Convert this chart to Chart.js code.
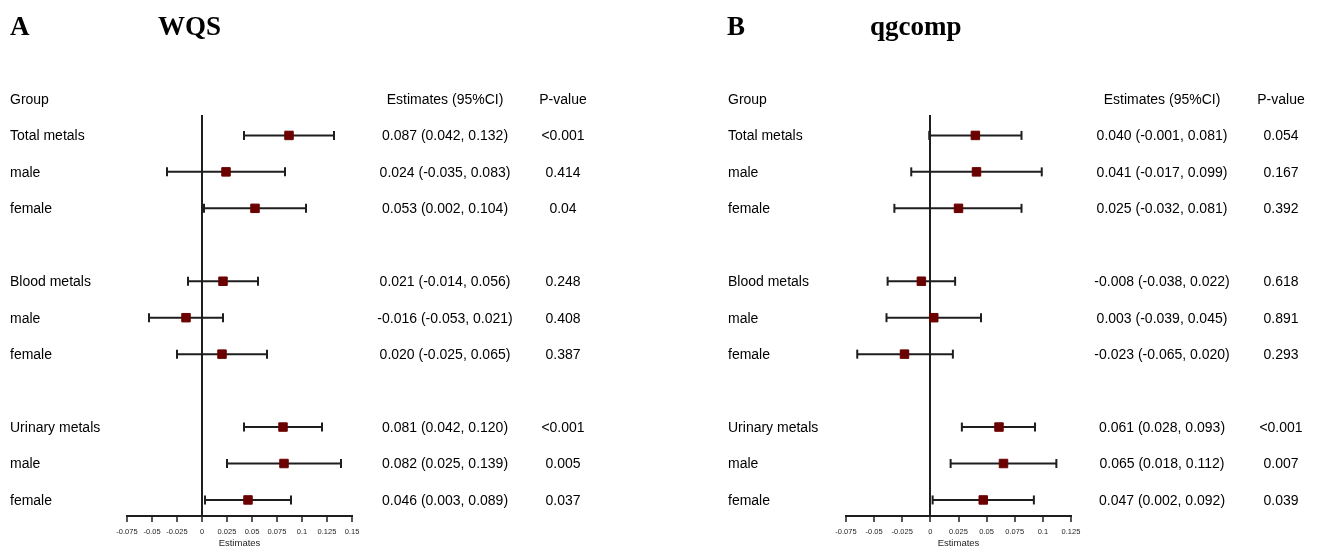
<!DOCTYPE html>
<html>
<head>
<meta charset="utf-8">
<script src="https://cdn.jsdelivr.net/npm/chart.js@4.4.1/dist/chart.umd.min.js"></script>
<style>
    html, body { margin: 0; padding: 0; background: #fff; }
    #wrap { position: relative; width: 1318px; height: 547px; }
    .panel { position: absolute; top: 0; width: 659px; height: 547px; }
</style>
</head>
<body>
<div id="wrap">
    <div class="panel" style="left:0"><canvas id="chartA" width="659" height="547"></canvas></div>
    <div class="panel" style="left:659px"><canvas id="chartB" width="659" height="547"></canvas></div>
</div>
<script>
// rows of the forest plot (row 0 is the header, 4 and 8 are blank)
const groups = ['Total metals', 'male', 'female', 'Blood metals', 'male', 'female', 'Urinary metals', 'male', 'female'];
const rows = [1, 2, 3, 5, 6, 7, 9, 10, 11];

// A: WQS
const wqsEst = [0.087, 0.024, 0.053, 0.021, -0.016, 0.020, 0.081, 0.082, 0.046];
const wqsLow = [0.042, -0.035, 0.002, -0.014, -0.053, -0.025, 0.042, 0.025, 0.003];
const wqsHigh = [0.132, 0.083, 0.104, 0.056, 0.021, 0.065, 0.120, 0.139, 0.089];
const wqsP = ['<0.001', '0.414', '0.04', '0.248', '0.408', '0.387', '<0.001', '0.005', '0.037'];
const wqsTicks = [-0.075, -0.05, -0.025, 0, 0.025, 0.05, 0.075, 0.1, 0.125, 0.15];

// B: qgcomp
const qgEst = [0.040, 0.041, 0.025, -0.008, 0.003, -0.023, 0.061, 0.065, 0.047];
const qgLow = [-0.001, -0.017, -0.032, -0.038, -0.039, -0.065, 0.028, 0.018, 0.002];
const qgHigh = [0.081, 0.099, 0.081, 0.022, 0.045, 0.020, 0.093, 0.112, 0.092];
const qgP = ['0.054', '0.167', '0.392', '0.618', '0.891', '0.293', '<0.001', '0.007', '0.039'];
const qgTicks = [-0.075, -0.05, -0.025, 0, 0.025, 0.05, 0.075, 0.1, 0.125];

const SANS = '"Liberation Sans", Arial, sans-serif';
const SERIF = '"Liberation Serif", "Times New Roman", serif';
const INK = '#1e1e1e';
const MARK = '#6b0000';

// draws the table text next to the plot, rows placed with the y scale
const forestText = {
    id: 'forestText',
    afterDraw(chart, args, opts) {
        const ctx = chart.ctx;
        const y = chart.scales.y;
        ctx.save();
        ctx.fillStyle = '#000';

        ctx.font = 'bold 27px ' + SERIF;
        ctx.textAlign = 'left';
        ctx.textBaseline = 'alphabetic';
        ctx.fillText(opts.letter, opts.letterX, 35);
        ctx.fillText(opts.method, opts.methodX, 35);

        ctx.font = '14px ' + SANS;
        ctx.textBaseline = 'middle';
        const y0 = y.getPixelForValue(0) + 1;
        ctx.textAlign = 'left';
        ctx.fillText('Group', opts.groupX, y0);
        ctx.textAlign = 'center';
        ctx.fillText('Estimates (95%CI)', opts.estX, y0);
        ctx.fillText('P-value', opts.pX, y0);

        rows.forEach((r, i) => {
            const py = y.getPixelForValue(r) + 1;
            ctx.textAlign = 'left';
            ctx.fillText(groups[i], opts.groupX, py);
            ctx.textAlign = 'center';
            const txt = opts.est[i].toFixed(3) + ' (' + opts.low[i].toFixed(3) + ', ' + opts.high[i].toFixed(3) + ')';
            ctx.fillText(txt, opts.estX, py);
            ctx.fillText(opts.p[i], opts.pX, py);
        });
        ctx.restore();
    }
};

function makeForest(id, est, low, high, p, ticks, padding, text) {
    const datasets = [{
        type: 'scatter',
        order: 0,
        data: rows.map((r, i) => ({ x: est[i], y: r })),
        pointStyle: 'rect',
        pointRadius: 6,
        pointBackgroundColor: MARK,
        pointBorderColor: MARK,
        pointBorderWidth: 1
    }];
    // one whisker per row, caps are rotated line points
    rows.forEach((r, i) => {
        datasets.push({
            type: 'line',
            order: 1,
            data: [{ x: low[i], y: r }, { x: high[i], y: r }],
            borderColor: INK,
            borderWidth: 2,
            pointStyle: 'line',
            pointRotation: 90,
            pointRadius: 4.5,
            pointBorderColor: INK,
            pointBorderWidth: 2
        });
    });

    return new Chart(document.getElementById(id), {
        type: 'scatter',
        data: { datasets: datasets },
        options: {
            responsive: false,
            animation: false,
            layout: { padding: padding },
            plugins: {
                legend: { display: false },
                tooltip: { enabled: false },
                forestText: Object.assign({ est: est, low: low, high: high, p: p }, text)
            },
            scales: {
                x: {
                    type: 'linear',
                    min: ticks[0],
                    max: ticks[ticks.length - 1],
                    afterBuildTicks: (scale) => {
                        scale.ticks = ticks.map((v) => ({ value: v }));
                    },
                    afterFit: (scale) => {
                        scale.height = 31;
                    },
                    border: { display: true, color: INK, width: 2 },
                    grid: {
                        drawOnChartArea: true,
                        color: (c) => (c.tick && c.tick.value === 0 ? INK : 'rgba(0,0,0,0)'),
                        lineWidth: 2,
                        tickColor: INK,
                        tickWidth: 1.5,
                        tickLength: 6
                    },
                    ticks: {
                        autoSkip: false,
                        maxRotation: 0,
                        padding: 5,
                        color: INK,
                        font: { family: SANS, size: 7.5 },
                        callback: (v) => String(+Number(v).toFixed(3))
                    },
                    title: {
                        display: true,
                        text: 'Estimates',
                        color: INK,
                        padding: { top: 0, bottom: 0 },
                        font: { family: SANS, size: 9.5, lineHeight: 0.8 }
                    }
                },
                y: {
                    type: 'linear',
                    display: false,
                    reverse: true,
                    min: 0.44,
                    max: 11.44
                }
            }
        },
        plugins: [forestText]
    });
}

makeForest('chartA', wqsEst, wqsLow, wqsHigh, wqsP, wqsTicks,
    { left: 127, right: 307, top: 115, bottom: 0 },
    { letter: 'A', letterX: 10, method: 'WQS', methodX: 158, groupX: 10, estX: 445, pX: 563 });

makeForest('chartB', qgEst, qgLow, qgHigh, qgP, qgTicks,
    { left: 187, right: 247, top: 115, bottom: 0 },
    { letter: 'B', letterX: 68, method: 'qgcomp', methodX: 211, groupX: 69, estX: 503, pX: 622 });
</script>
</body>
</html>
